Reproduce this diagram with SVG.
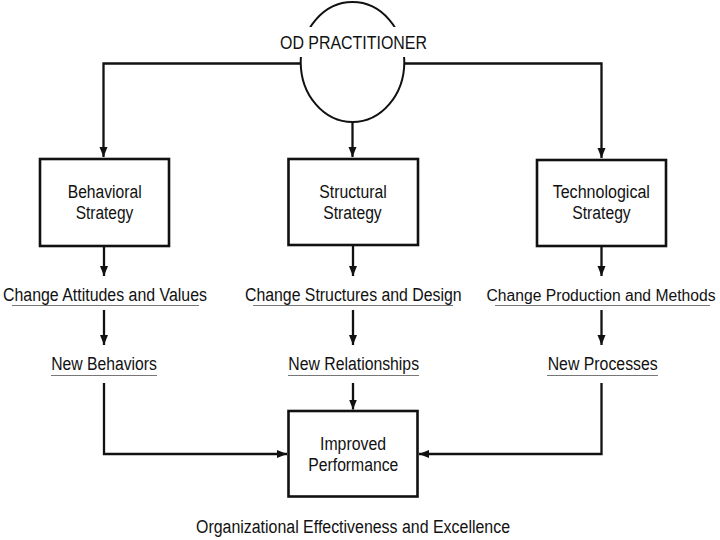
<svg xmlns="http://www.w3.org/2000/svg" width="720" height="540" viewBox="0 0 720 540">
<style>
text{font-family:"Liberation Sans",Arial,sans-serif;font-size:18px;fill:#111;text-anchor:middle}
.box{fill:#fff;stroke:#111;stroke-width:2.6}
.ln{fill:none;stroke:#111;stroke-width:2.3}
.ul{stroke:#777;stroke-width:1}
</style>
<defs>
<marker id="ah" markerWidth="10" markerHeight="12" refX="10" refY="4" orient="auto" markerUnits="userSpaceOnUse" viewBox="0 0 10 8">
<path d="M0,0 L10,4 L0,8 Z" fill="#111"/>
</marker>
</defs>
<rect width="720" height="540" fill="#fff"/>
<g id="connectors">
<path class="ln" d="M301,63.5 H103.5 V157" marker-end="url(#ah)"/>
<path class="ln" d="M404,63.5 H601.5 V158" marker-end="url(#ah)"/>
<path class="ln" d="M352.5,122 V157" marker-end="url(#ah)"/>
<path class="ln" d="M104,246 V276" marker-end="url(#ah)"/>
<path class="ln" d="M353,246 V276" marker-end="url(#ah)"/>
<path class="ln" d="M601.5,246 V276" marker-end="url(#ah)"/>
<path class="ln" d="M104,310 V345" marker-end="url(#ah)"/>
<path class="ln" d="M353,310 V345" marker-end="url(#ah)"/>
<path class="ln" d="M601.5,310 V345" marker-end="url(#ah)"/>
<path class="ln" d="M104,383 V454 H287" marker-end="url(#ah)"/>
<path class="ln" d="M353,383 V409.5" marker-end="url(#ah)"/>
<path class="ln" d="M601.5,383 V454 H419" marker-end="url(#ah)"/>
</g>
<g id="od-practitioner">
<ellipse cx="352.5" cy="62" rx="51.8" ry="60" fill="#fff" stroke="#111" stroke-width="2"/>
<rect x="278" y="27" width="152" height="30" fill="#fff"/>
<text x="353.5" y="49" textLength="147" lengthAdjust="spacingAndGlyphs">OD PRACTITIONER</text>
</g>
<g id="behavioral">
<rect class="box" x="40" y="159" width="129" height="87"/>
<text x="104.7" y="198" textLength="74" lengthAdjust="spacingAndGlyphs">Behavioral</text>
<text x="104.5" y="219" textLength="57.6" lengthAdjust="spacingAndGlyphs">Strategy</text>
</g>
<g id="structural">
<rect class="box" x="288.5" y="159" width="129.5" height="86"/>
<text x="353" y="198" textLength="67.4" lengthAdjust="spacingAndGlyphs">Structural</text>
<text x="352.5" y="219" textLength="58.4" lengthAdjust="spacingAndGlyphs">Strategy</text>
</g>
<g id="technological">
<rect class="box" x="537" y="160" width="129" height="86"/>
<text x="601.3" y="198" textLength="97.3" lengthAdjust="spacingAndGlyphs">Technological</text>
<text x="601.5" y="219" textLength="58.4" lengthAdjust="spacingAndGlyphs">Strategy</text>
</g>
<g id="change-attitudes">
<text x="105" y="300.5" textLength="204" lengthAdjust="spacingAndGlyphs">Change Attitudes and Values</text>
<line class="ul" x1="12" y1="305.5" x2="199" y2="305.5"/>
</g>
<g id="change-structures">
<text x="353.3" y="300.5" textLength="216.7" lengthAdjust="spacingAndGlyphs">Change Structures and Design</text>
<line class="ul" x1="253" y1="305.5" x2="453" y2="305.5"/>
</g>
<g id="change-production">
<text x="601" y="300.5" style="font-size:16px" textLength="229" lengthAdjust="spacingAndGlyphs">Change Production and Methods</text>
<line class="ul" x1="495" y1="305.5" x2="710" y2="305.5"/>
</g>
<g id="new-behaviors">
<text x="104" y="370" textLength="105.7" lengthAdjust="spacingAndGlyphs">New Behaviors</text>
<line class="ul" x1="51" y1="375.5" x2="157" y2="375.5"/>
</g>
<g id="new-relationships">
<text x="353.7" y="370" textLength="130.7" lengthAdjust="spacingAndGlyphs">New Relationships</text>
<line class="ul" x1="288" y1="375.5" x2="419" y2="375.5"/>
</g>
<g id="new-processes">
<text x="602.7" y="370" textLength="110" lengthAdjust="spacingAndGlyphs">New Processes</text>
<line class="ul" x1="547" y1="375.5" x2="658" y2="375.5"/>
</g>
<g id="improved-performance">
<rect class="box" x="288.5" y="411" width="129" height="85.5"/>
<text x="353" y="450" textLength="66" lengthAdjust="spacingAndGlyphs">Improved</text>
<text x="353.3" y="470.7" textLength="90" lengthAdjust="spacingAndGlyphs">Performance</text>
</g>
<g id="caption">
<text x="353" y="533" textLength="314" lengthAdjust="spacingAndGlyphs">Organizational Effectiveness and Excellence</text>
</g>
</svg>
